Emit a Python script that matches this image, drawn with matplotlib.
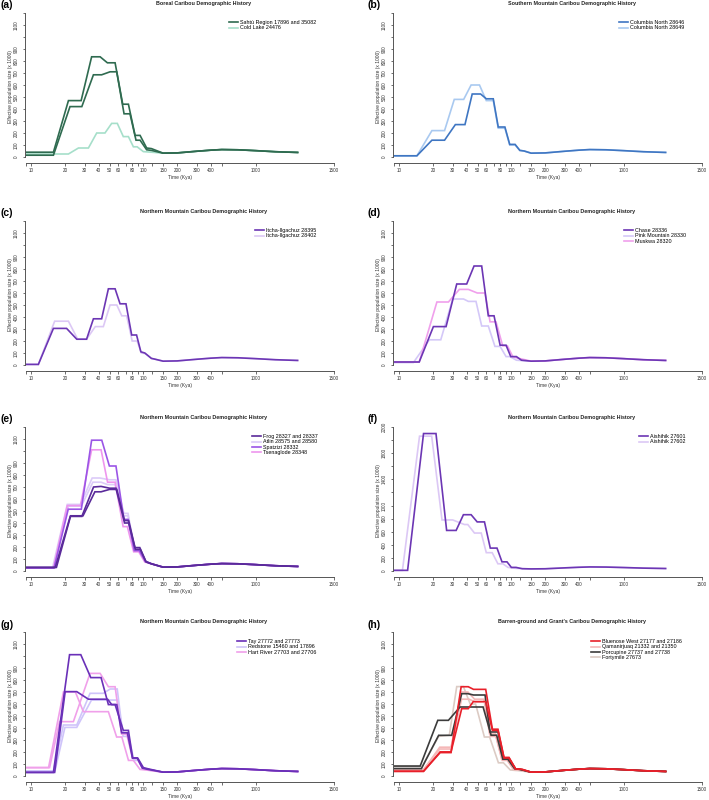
import matplotlib
matplotlib.use("Agg")
import matplotlib.pyplot as plt
from matplotlib.ticker import FixedLocator, FixedFormatter, NullLocator

plt.rcParams["font.family"] = ["Liberation Sans", "DejaVu Sans"]

# ---- data (time in kya, Ne x 1000) ----
# shared ancient tail, identical across all runs
TAIL_T = [150, 200, 300, 400, 500, 700, 1000, 1500, 2370]
TAIL_N = [32, 34, 48, 57, 62, 60, 53, 44, 38]

# (a) Boreal
A_SAHTU1_T = [9, 15.8, 21.5, 27.9, 34.6, 41.2, 47.8, 56, 65.5, 73.6, 84.4, 93.5, 107, 118]
A_SAHTU1_N = [40, 40, 470, 470, 835, 835, 785, 785, 440, 440, 180, 180, 75, 70]
A_SAHTU2_T = [9, 15.8, 22.2, 28.3, 35.9, 42.5, 50.5, 57.9, 67.3, 76, 86, 93.5, 107, 118]
A_SAHTU2_N = [15, 15, 420, 420, 685, 685, 710, 710, 360, 360, 140, 140, 60, 55]
A_COLD_T = [9, 21.5, 26.4, 32.4, 38.4, 45.5, 52.2, 58.6, 66.3, 73.6, 81.5, 88, 100, 118]
A_COLD_N = [25, 25, 75, 75, 200, 200, 280, 280, 170, 170, 85, 85, 45, 40]

# (b) Southern Mountain
B_CN46_T = [9, 14.4, 19.6, 25.4, 31.7, 38.6, 44.8, 53.2, 59.8, 69, 76.4, 87.6, 96.7, 108, 119, 130]
B_CN46_N = [10, 10, 140, 140, 270, 270, 525, 525, 485, 485, 250, 250, 105, 105, 55, 50]
B_CN49_T = [9, 14.4, 19.6, 25.4, 31, 37.6, 43.8, 52, 59.8, 69, 76.4, 87.6, 96.7, 108, 119, 130]
B_CN49_N = [10, 10, 220, 220, 480, 480, 600, 600, 470, 470, 240, 240, 100, 100, 55, 50]

# (c) Itcha-Ilgachuz
C_IT95_T = [9, 11.6, 15.8, 20.7, 25.5, 31.2, 35.9, 42.5, 48.8, 56, 62, 70, 78.7, 87, 95, 103, 118, 125]
C_IT95_N = [5, 5, 305, 305, 215, 215, 385, 385, 635, 635, 510, 510, 250, 250, 110, 100, 55, 50]
C_IT02_T = [9, 11.6, 16.2, 21.5, 26, 31.2, 37.3, 44, 50.5, 58, 64.2, 71, 79.5, 88, 96, 104, 118, 125]
C_IT02_N = [5, 5, 365, 365, 215, 215, 320, 320, 500, 500, 410, 410, 200, 200, 100, 95, 55, 50]

# (d) Chase / Pink Mountain / Muskwa
D_CHASE_T = [9, 15.1, 20.2, 26.2, 32.6, 40, 46.5, 54.4, 62.3, 70.1, 79.4, 89.7, 98.8, 111, 123]
D_CHASE_N = [25, 25, 320, 320, 675, 675, 825, 825, 410, 410, 165, 165, 70, 70, 40]
D_PINK_T = [9, 13.4, 18.6, 23.5, 30, 37.5, 41.4, 48.4, 54.4, 62.3, 71.4, 79.4, 89.7, 97, 111]
D_PINK_N = [20, 20, 210, 210, 550, 550, 530, 530, 325, 325, 155, 155, 70, 70, 40]
D_MUSK_T = [9, 15.1, 21.7, 27.5, 34.4, 41.4, 49.7, 58.2, 64.6, 73, 83.7, 92.2, 103, 111]
D_MUSK_N = [25, 25, 525, 525, 630, 630, 600, 600, 360, 360, 160, 160, 70, 60]

# (e) Frog / Atlin / Spatzizi / Tsenaglode
E_FROG1_T = [9, 16.4, 22.3, 28.3, 36, 42, 50, 57, 68, 74, 84, 93, 105, 118]
E_FROG1_N = [30, 30, 455, 455, 700, 705, 690, 690, 400, 400, 195, 195, 80, 60]
E_FROG2_T = [9, 16.8, 22.5, 29, 37, 42, 50, 58, 68, 74, 85, 94, 106, 118]
E_FROG2_N = [30, 30, 460, 460, 660, 660, 680, 680, 420, 420, 180, 180, 75, 60]
E_ATLIN1_T = [9, 15.5, 21, 27.5, 35, 41, 50, 57, 67, 73, 83, 92, 104, 118]
E_ATLIN1_N = [25, 25, 555, 555, 775, 775, 760, 760, 480, 480, 190, 190, 80, 60]
E_ATLIN2_T = [9, 15.8, 21.5, 28, 35.5, 42, 48, 56, 67, 73, 83, 92, 104, 118]
E_ATLIN2_N = [25, 25, 540, 540, 740, 740, 720, 720, 460, 460, 185, 185, 78, 60]
E_SPAT_T = [9, 16, 21.4, 28, 34.6, 42.6, 49.8, 57, 67, 73, 83, 92, 104, 118]
E_SPAT_N = [25, 25, 515, 515, 1090, 1090, 875, 875, 430, 430, 170, 170, 80, 60]
E_TSEN_T = [9, 15.8, 21, 27.5, 34.6, 42, 48, 56, 66, 72, 82, 91, 103, 118]
E_TSEN_N = [25, 25, 545, 545, 1010, 1010, 740, 740, 370, 370, 160, 160, 75, 60]

# (f) Aishihik
F_AI01_T = [9, 11.9, 16.5, 21.3, 26.5, 32.2, 37.4, 43.8, 49.6, 57.6, 64.9, 74.5, 82.5, 91.4, 100, 110, 125]
F_AI01_N = [10, 10, 2100, 2100, 620, 620, 860, 860, 750, 750, 350, 350, 140, 140, 55, 55, 35]
F_AI02_T = [9, 10.7, 15.2, 19.5, 24.1, 30, 38.2, 40.9, 46.9, 53.9, 59.8, 67.5, 75.9, 84.1, 93.3, 110]
F_AI02_N = [10, 10, 2060, 2060, 780, 780, 710, 710, 580, 580, 280, 280, 110, 110, 55, 40]

# (g) Tay / Redstone / Hart River
G_TAY1_T = [9, 15.8, 22, 27.7, 34, 42, 48.8, 56, 66.3, 73.6, 80.3, 89, 100, 110]
G_TAY1_N = [30, 30, 1011, 1011, 820, 820, 595, 595, 380, 380, 150, 150, 70, 60]
G_TAY2_T = [9, 16.2, 20.1, 25.5, 32.4, 48, 52.3, 58, 64, 72, 80, 88, 98, 110]
G_TAY2_N = [30, 30, 703, 703, 640, 640, 595, 595, 360, 360, 150, 150, 65, 55]
G_RED1_T = [9, 15.8, 19.4, 25.5, 33.5, 44, 50.6, 58.5, 66, 73, 82, 90, 100, 112]
G_RED1_N = [42, 42, 425, 425, 689, 689, 725, 725, 330, 330, 130, 130, 60, 50]
G_RED2_T = [9, 16.3, 20, 25.5, 34.5, 58.5, 66, 73, 82, 90, 100, 112]
G_RED2_N = [42, 42, 405, 405, 633, 633, 350, 350, 140, 140, 60, 50]
G_HART1_T = [9, 14.3, 19.4, 24.8, 29.2, 48.8, 57.8, 64.3, 73.7, 81.5, 93.4, 110]
G_HART1_N = [70, 70, 700, 700, 536, 536, 325, 325, 130, 130, 55, 48]
G_HART2_T = [9, 14.6, 17.9, 23.8, 33.5, 41.2, 48.8, 56, 64, 71, 80, 88, 98, 110]
G_HART2_N = [70, 70, 453, 453, 855, 855, 744, 744, 350, 350, 150, 150, 65, 55]

# (h) Barren-ground and Grant's
H_BLUE1_T = [9, 16.5, 23.2, 29, 36.1, 41.3, 45.8, 59.1, 67.8, 76, 86, 95.3, 109, 125]
H_BLUE1_N = [39, 39, 201, 201, 561, 561, 620, 620, 380, 380, 150, 150, 60, 55]
H_BLUE2_T = [9, 16.5, 23.2, 29, 35.7, 41.3, 46, 59.1, 67.8, 76, 86, 95.3, 109, 125]
H_BLUE2_N = [39, 39, 195, 195, 744, 744, 722, 722, 390, 390, 155, 155, 60, 55]
H_QAM1_T = [9, 16.5, 23, 29, 36, 42, 48, 58, 65, 73, 83, 92, 105, 120]
H_QAM1_N = [50, 50, 240, 240, 640, 640, 615, 615, 330, 330, 130, 130, 55, 50]
H_QAM2_T = [9, 16.5, 23, 29, 35.5, 41, 47, 57, 64, 72, 82, 91, 104, 120]
H_QAM2_N = [55, 55, 225, 225, 700, 700, 640, 640, 350, 350, 140, 140, 55, 50]
H_PORC1_T = [9, 15.4, 22.1, 27.5, 34.9, 56, 66, 74, 84, 93, 107, 120]
H_PORC1_N = [83, 83, 464, 464, 575, 575, 340, 340, 140, 140, 60, 55]
H_PORC2_T = [9, 15.8, 22.5, 29.4, 36.1, 41, 46, 58.3, 64.6, 76, 85, 95, 109, 120]
H_PORC2_N = [62, 62, 339, 339, 686, 686, 675, 675, 367, 367, 146, 146, 60, 55]
H_FORTY_T = [9, 16, 22.5, 28, 32.6, 37.4, 43, 48, 57.5, 64, 76.7, 85, 98, 115]
H_FORTY_N = [80, 80, 330, 340, 745, 745, 600, 600, 325, 325, 110, 110, 50, 45]

# axis ticks
XTICKS = [9, 10, 20, 30, 40, 50, 60, 70, 80, 90, 100, 120, 150, 200, 300, 400, 500, 1000, 5000]
XLABELS = ["", "10", "20", "30", "40", "50", "60", "", "80", "", "100", "", "150", "200",
           "300", "400", "", "1000", "1500"]
YTICKS = list(range(0, 1201, 100))
YLABELS = [str(v) if v not in (1000, 1200) else "" for v in YTICKS]
YTICKS_F = list(range(0, 2201, 200))
YLABELS_F = [str(v) if v not in (1200, 1600, 2000) else "" for v in YTICKS_F]

TITLE_NM = "Northern Mountain Caribou Demographic History"

# panel: (tag, title, col, row, legend x px, ymax, series, legend entries)
PANELS = [
    ("(a)", "Boreal Caribou Demographic History", 0, 0, 229, 1200, [
        ("#a6dfca", A_COLD_T, A_COLD_N),
        ("#2f6b50", A_SAHTU1_T, A_SAHTU1_N),
        ("#2f6b50", A_SAHTU2_T, A_SAHTU2_N),
    ], [("Sahtú Region 17896 and 35082", "#2f6b50"), ("Cold Lake 24476", "#a6dfca")]),
    ("(b)", "Southern Mountain Caribou Demographic History", 1, 0, 619, 1200, [
        ("#a9c9f0", B_CN49_T, B_CN49_N),
        ("#3f76c2", B_CN46_T, B_CN46_N),
    ], [("Columbia North 28646", "#3f76c2"), ("Columbia North 28649", "#a9c9f0")]),
    ("(c)", TITLE_NM, 0, 1, 255, 1200, [
        ("#dcc8f5", C_IT02_T, C_IT02_N),
        ("#6c36b4", C_IT95_T, C_IT95_N),
    ], [("Itcha-Ilgachuz 28395", "#6c36b4"), ("Itcha-Ilgachuz 28402", "#dcc8f5")]),
    ("(d)", TITLE_NM, 1, 1, 624, 1200, [
        ("#d4c8f8", D_PINK_T, D_PINK_N),
        ("#f0a0ec", D_MUSK_T, D_MUSK_N),
        ("#6c36b4", D_CHASE_T, D_CHASE_N),
    ], [("Chase 28336", "#6c36b4"), ("Pink Mountain 28330", "#d4c8f8"),
        ("Muskwa 28320", "#f0a0ec")]),
    ("(e)", TITLE_NM, 0, 2, 252, 1200, [
        ("#dccbf8", E_ATLIN1_T, E_ATLIN1_N),
        ("#dccbf8", E_ATLIN2_T, E_ATLIN2_N),
        ("#ee96ee", E_TSEN_T, E_TSEN_N),
        ("#9b55e6", E_SPAT_T, E_SPAT_N),
        ("#5a2a9a", E_FROG1_T, E_FROG1_N),
        ("#5a2a9a", E_FROG2_T, E_FROG2_N),
    ], [("Frog 28327 and 28337", "#5a2a9a"), ("Atlin 28575 and 28580", "#dccbf8"),
        ("Spatzizi 28332", "#9b55e6"), ("Tsenaglode 28348", "#ee96ee")]),
    ("(f)", TITLE_NM, 1, 2, 639, 2200, [
        ("#dcc8f5", F_AI02_T, F_AI02_N),
        ("#6c36b4", F_AI01_T, F_AI01_N),
    ], [("Aishihik 27601", "#6c36b4"), ("Aishihik 27602", "#dcc8f5")]),
    ("(g)", TITLE_NM, 0, 3, 237, 1200, [
        ("#cfc4fa", G_RED1_T, G_RED1_N),
        ("#cfc4fa", G_RED2_T, G_RED2_N),
        ("#f0a0ea", G_HART1_T, G_HART1_N),
        ("#f0a0ea", G_HART2_T, G_HART2_N),
        ("#6a30b8", G_TAY1_T, G_TAY1_N),
        ("#6a30b8", G_TAY2_T, G_TAY2_N),
    ], [("Tay 27772 and 27773", "#6a30b8"), ("Redstone 15460 and 17896", "#cfc4fa"),
        ("Hart River 27703 and 27706", "#f0a0ea")]),
    ("(h)", "Barren-ground and Grant's Caribou Demographic History", 1, 3, 591, 1200, [
        ("#dccbc4", H_FORTY_T, H_FORTY_N),
        ("#f5b8b8", H_QAM1_T, H_QAM1_N),
        ("#f5b8b8", H_QAM2_T, H_QAM2_N),
        ("#3c3c3c", H_PORC1_T, H_PORC1_N),
        ("#3c3c3c", H_PORC2_T, H_PORC2_N),
        ("#e8202a", H_BLUE1_T, H_BLUE1_N),
        ("#e8202a", H_BLUE2_T, H_BLUE2_N),
    ], [("Bluenose West 27177 and 27186", "#e8202a"), ("Qamanirjuaq 21332 and 21350", "#f5b8b8"),
        ("Porcupine 27737 and 27738", "#3c3c3c"), ("Fortymile 27673", "#dccbc4")]),
]

W, H = 709, 800
COL_X = [26, 394]
ROW_TOP = [13, 221, 427, 632]
AX_W, AX_H = 308, 147
AXIS_COL = "#555555"

fig = plt.figure(figsize=(W / 100, H / 100), dpi=100)
fig.patch.set_facecolor("white")

for tag, title, col, row, leg_x, ymax, series, legend in PANELS:
    x0, top = COL_X[col], ROW_TOP[row]
    ax = fig.add_axes([x0 / W, 1 - (top + AX_H) / H, AX_W / W, AX_H / H])
    for color, t, n in series:
        ax.plot(list(t) + TAIL_T, list(n) + TAIL_N, color=color, lw=1.2,
                solid_joinstyle="miter")

    ax.set_xscale("log")
    ax.set_xlim(9, 5000)
    ax.set_ylim(-ymax * 3 / 144, ymax)
    for s in ("top", "right"):
        ax.spines[s].set_visible(False)
    ax.spines["left"].set_position(("outward", 0.7))
    ax.spines["bottom"].set_position(("outward", 2.2))
    ax.spines["left"].set_bounds(0, ymax)
    ax.spines["bottom"].set_bounds(9, 5000)
    for s in ("left", "bottom"):
        ax.spines[s].set_color(AXIS_COL)
        ax.spines[s].set_linewidth(0.7)

    ax.xaxis.set_major_locator(FixedLocator(XTICKS))
    ax.xaxis.set_major_formatter(FixedFormatter(XLABELS))
    ax.xaxis.set_minor_locator(NullLocator())
    if ymax > 1200:
        ax.yaxis.set_major_locator(FixedLocator(YTICKS_F))
        ax.yaxis.set_major_formatter(FixedFormatter(YLABELS_F))
    else:
        ax.yaxis.set_major_locator(FixedLocator(YTICKS))
        ax.yaxis.set_major_formatter(FixedFormatter(YLABELS))
    ax.tick_params(length=1.8, width=0.6, color=AXIS_COL, labelsize=3.3,
                   labelcolor="#333333")
    ax.tick_params(axis="x", pad=2.0)
    ax.tick_params(axis="y", pad=2.8, labelrotation=90)
    for lab in ax.get_yticklabels():
        lab.set_va("center")

    ax.set_xlabel("Time (Kya)", fontsize=3.5, color="#333333", labelpad=1.0)
    ax.set_ylabel("Effective population size (x 1000)", fontsize=3.5,
                  color="#333333", labelpad=0.8)

    fig.text((x0 + 0.577 * AX_W) / W, 1 - (top - 10) / H, title, fontsize=3.9,
             fontweight="bold", ha="center", va="center", color="#222222")
    fig.text((0.5 if col == 0 else 367) / W, 1 - (top - 7.5) / H, tag,
             fontsize=7.5, fontweight="bold", ha="left", va="center")

    handles = [plt.Line2D([], [], color=c, lw=1.2) for _, c in legend]
    ax.legend(handles, [lab for lab, _ in legend], loc="upper left",
              bbox_to_anchor=(leg_x / W, 1 - (top + 7) / H),
              bbox_transform=fig.transFigure, frameon=False, fontsize=3.9,
              borderpad=0, borderaxespad=0, handlelength=1.6, handletextpad=0.5,
              labelspacing=0.08)

fig.savefig("out.png", dpi=100, facecolor="white")
